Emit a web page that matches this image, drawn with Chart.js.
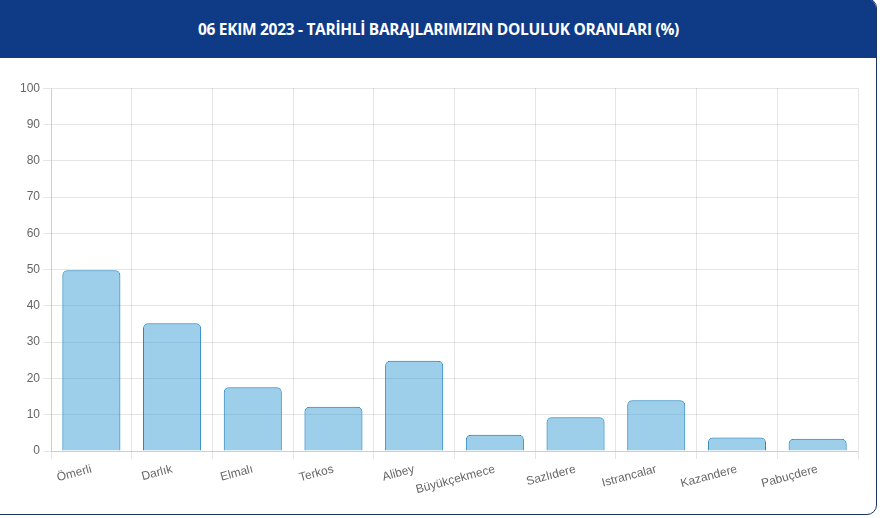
<!DOCTYPE html>
<html>
<head>
<meta charset="utf-8">
<script src="https://cdn.jsdelivr.net/npm/chart.js@4"></script>
<style>
  html, body { margin: 0; padding: 0; background: #fff; width: 880px; height: 518px; overflow: hidden; }
  .card { position: absolute; left: -12px; top: -2px; width: 889px; height: 517px; border: 1.5px solid #1e3563; border-radius: 10px; overflow: hidden; background: #fff; box-sizing: border-box; }
  .head { position: absolute; left: 0; top: 0; right: 0; height: 59px; background: #0f3a86; color: #fff; font-family: "Open Sans", sans-serif; font-weight: 700; font-size: 15.5px; text-align: center; line-height: 60px; padding-left: 12px; letter-spacing: -0.3px; }
  .wrap { position: absolute; left: 0; top: 78px; width: 862px; height: 422px; }
</style>
</head>
<body>
<div class="card"><div class="head">06 EKIM 2023 - TARİHLİ BARAJLARIMIZIN DOLULUK ORANLARI (%)</div></div>
<div class="wrap"><canvas id="c"></canvas></div>
<script>
const categories = ["Ömerli", "Darlık", "Elmalı", "Terkos", "Alibey", "Büyükçekmece", "Sazlıdere", "Istrancalar", "Kazandere", "Pabuçdere"];
const values = [49.8, 35.2, 17.6, 12.2, 24.9, 4.5, 9.3, 14.0, 3.7, 3.4];
const yMin = 0, yMax = 100, yStep = 10;

new Chart(document.getElementById('c'), {
  type: 'bar',
  data: {
    labels: categories,
    datasets: [{
      data: values,
      backgroundColor: 'rgba(60,160,216,0.5)',
      borderColor: 'rgba(38,134,190,1)',
      borderWidth: 1,
      borderRadius: 5
    }]
  },
  options: {
    responsive: true,
    maintainAspectRatio: false,
    animation: false,
    plugins: { legend: { display: false }, tooltip: { enabled: false } },
    layout: { padding: { left: 17, right: 4 } },
    scales: {
      x: { ticks: { color: '#666', font: { size: 12 }, maxRotation: 15, minRotation: 15 } },
      y: { min: yMin, max: yMax, ticks: { stepSize: yStep, color: '#666', font: { size: 12 } } }
    }
  }
});
</script>
</body>
</html>
